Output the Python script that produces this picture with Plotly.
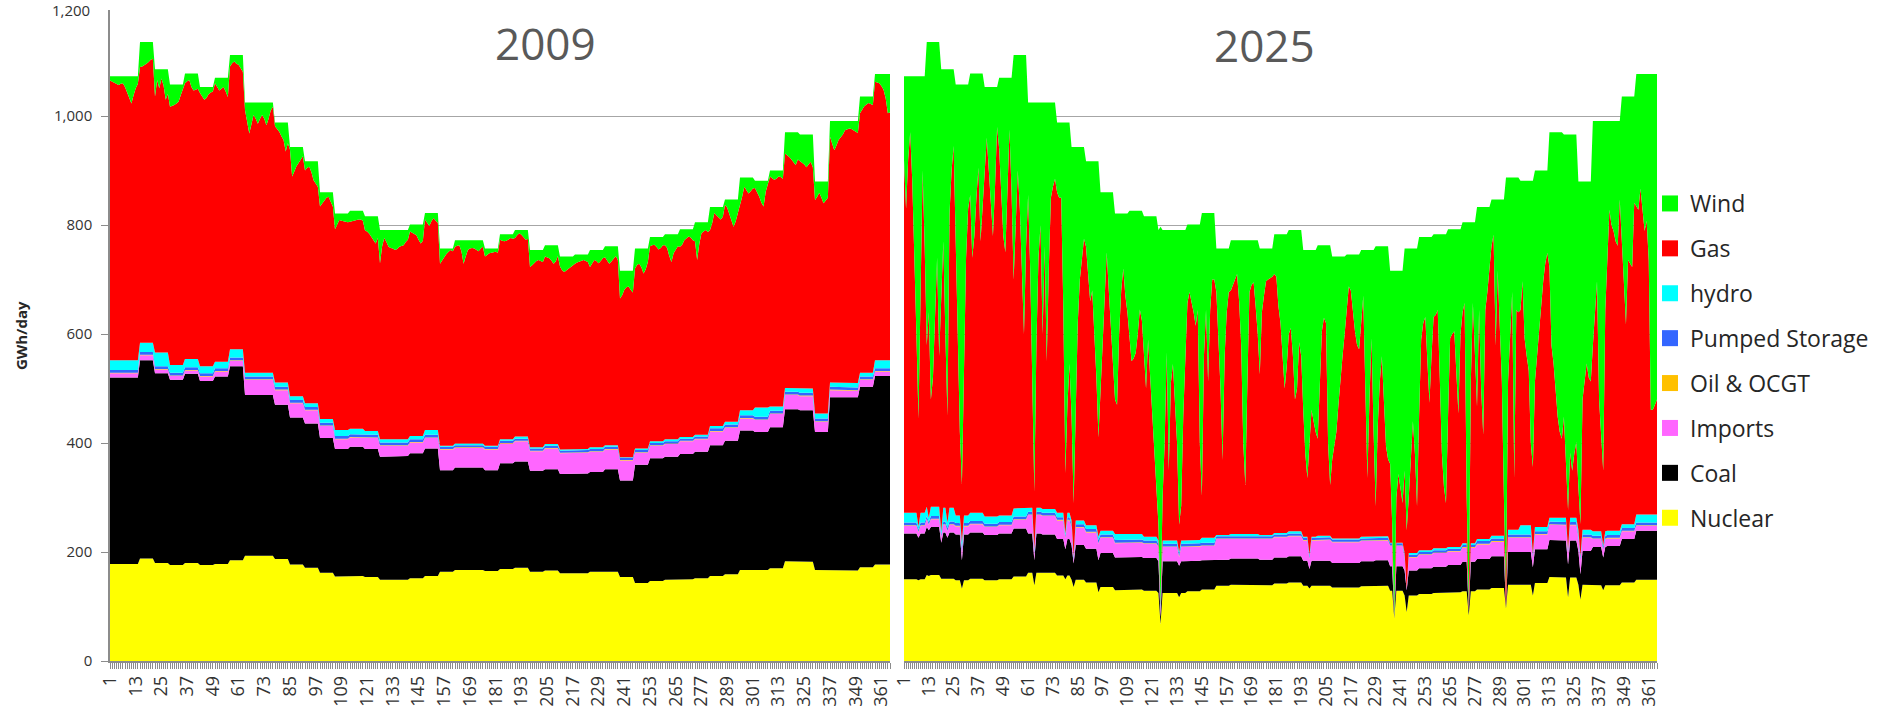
import plotly.graph_objects as go

# ---------------- data (GWh/day) ----------------
days = list(range(1, 366))
x_tick_vals = [1, 13, 25, 37, 49, 61, 73, 85, 97, 109, 121, 133, 145, 157, 169, 181, 193, 205,
               217, 229, 241, 253, 265, 277, 289, 301, 313, 325, 337, 349, 361]
y_tick_vals = [0, 200, 400, 600, 800, 1000]

# weekly total demand (53 blocks of 7 days)
demand_wk = [1073, 1073, 1136, 1086, 1058, 1078, 1053, 1070, 1112, 1025, 1025, 988, 943, 917,
             860, 821, 826, 816, 791, 791, 801, 822, 757, 772, 772, 757, 783, 791, 754, 763,
             742, 746, 754, 761, 716, 757, 778, 783, 792, 805, 833, 847, 887, 881, 900, 970,
             966, 880, 991, 991, 1036, 1077, 1077]

# 2009 weekly base generation
nuclear_2009_wk = [178, 178, 188, 180, 176, 180, 176, 178, 185, 193, 193, 187, 177, 171, 162, 155,
                   156, 154, 149, 149, 152, 156, 164, 167, 167, 165, 169, 171, 164, 166, 161, 161,
                   164, 164, 154, 143, 147, 149, 150, 152, 156, 159, 167, 167, 170, 183, 182, 167,
                   166, 166, 172, 177, 177]
coal_2009_wk = [342, 342, 364, 348, 340, 347, 338, 344, 356, 295, 295, 283, 270, 265, 247, 234,
                237, 235, 226, 227, 229, 234, 186, 188, 188, 185, 194, 195, 185, 186, 182, 183,
                183, 188, 177, 217, 225, 226, 230, 232, 240, 245, 256, 253, 259, 279, 278, 253,
                318, 318, 331, 346, 346]
imports_2009_wk = [8, 8, 9, 7, 7, 6, 8, 9, 10, 28, 28, 27, 26, 24, 22, 18, 17, 20, 20, 19, 20, 19,
                   38, 36, 36, 38, 36, 37, 36, 38, 38, 38, 37, 36, 37, 22, 23, 23, 23, 23, 25, 24,
                   22, 22, 24, 26, 26, 19, 13, 12, 13, 8, 8]
oil_wk = [1, 1, 1, 1, 1, 1, 1, 1, 1, 1, 1, 1, 1, 1, 1, 1, 1, 1, 1, 1, 1, 1, 1, 1, 1, 1, 1, 1, 1,
          1, 1, 1, 1, 1, 1, 1, 1, 1, 1, 1, 1, 1, 1, 1, 1, 1, 1, 1, 1, 1, 1, 1, 1]
pumped_wk = [5, 5, 5, 5, 5, 5, 5, 5, 5, 5, 5, 5, 5, 5, 5, 5, 5, 5, 5, 5, 5, 5, 4, 4, 4, 4, 4, 4,
             4, 4, 4, 4, 4, 4, 4, 4, 4, 4, 4, 4, 5, 5, 5, 5, 5, 5, 5, 5, 5, 5, 5, 5, 5]
hydro_wk = [18, 18, 17, 25, 14, 15, 13, 12, 15, 7, 7, 8, 7, 7, 7, 11, 10, 7, 6, 6, 6, 9, 2, 3, 3,
            2, 3, 4, 2, 3, 2, 2, 3, 3, 1, 3, 3, 4, 3, 3, 4, 5, 9, 17, 8, 7, 8, 9, 8, 8, 7, 15, 15]

# 2009 daily wind
wind_2009 = [8, 10, 12, 15, 16, 14, 13, 20, 30, 38, 50, 35, 22, 14, 46, 45, 43, 40, 37, 33, 31,
             50, 20, 35, 17, 30, 56, 45, 41, 40, 38, 35, 32, 20, 7, 18, 14, 12, 25, 31, 30, 28,
             11, 18, 23, 20, 13, 10, 8, 10, 18, 23, 20, 17, 25, 35, 21, 15, 12, 16, 18, 25, 31,
             14, 35, 57, 40, 23, 30, 39, 30, 23, 30, 42, 30, 15, 8, 7, 12, 17, 25, 32, 53, 38,
             5, 54, 45, 35, 29, 22, 17, 17, 12, 10, 20, 35, 42, 47, 26, 20, 14, 10, 8, 18, 26,
             29, 20, 12, 13, 14, 15, 16, 20, 19, 17, 17, 16, 16, 18, 26, 28, 32, 38, 45, 50, 40,
             61, 30, 15, 22, 31, 33, 34, 37, 35, 31, 30, 28, 22, 18, 13, 15, 17, 20, 28, 35, 30,
             12, 18, 24, 15, 9, 14, 18, 28, 22, 15, 10, 6, 3, 5, 12, 10, 9, 20, 43, 30, 18,
             15, 14, 15, 18, 20, 15, 12, 15, 12, 9, 8, 7, 6, 8, 10, 12, 13, 12, 9, 7, 8,
             15, 10, 6, 9, 14, 18, 16, 31, 28, 24, 20, 18, 20, 22, 21, 22, 24, 28, 34, 30, 20,
             18, 25, 28, 25, 21, 18, 15, 17, 15, 13, 11, 10, 12, 14, 31, 25, 18, 20, 24, 20, 15,
             20, 25, 32, 28, 22, 18, 25, 51, 45, 35, 30, 29, 35, 40, 37, 30, 28, 35, 46, 38, 25,
             17, 15, 14, 18, 23, 20, 15, 20, 25, 40, 51, 35, 29, 22, 32, 28, 20, 16, 13, 15, 20,
             35, 69, 40, 20, 17, 14, 18, 42, 30, 11, 15, 20, 23, 18, 10, 15, 26, 35, 50, 40, 25,
             53, 35, 17, 22, 29, 25, 20, 13, 20, 29, 40, 47, 20, 4, 11, 14, 17, 15, 11, 12, 15,
             39, 42, 45, 50, 55, 60, 50, 49, 52, 55, 60, 55, 50, 60, 34, 28, 21, 30, 40, 35, 30,
             29, 40, 54, 45, 35, 30, 25, 17, 15, 14, 15, 17, 20, 22, 31, 25, 18, 15, 12, 14, 16,
             14, 16, 17, 22, 29, 45, 72, 70]

# 2025 weekly base generation (weeks run 3 days earlier than in 2009)
week_shift_2025 = 3
nuclear_2025_wk = [150, 150, 158, 151, 148, 151, 148, 150, 155, 162, 162, 157, 149, 144, 136, 130,
                   131, 129, 125, 125, 128, 131, 138, 140, 140, 139, 142, 144, 138, 138, 135, 135,
                   137, 138, 129, 120, 123, 125, 126, 128, 131, 134, 140, 140, 143, 154, 153, 140,
                   139, 139, 144, 149, 149]
coal_2025_wk = [84, 84, 88, 85, 84, 85, 83, 84, 88, 72, 70, 67, 64, 62, 62, 60, 60, 60, 58, 58,
                56, 54, 48, 48, 48, 47, 48, 48, 46, 46, 45, 45, 46, 47, 45, 46, 47, 48, 50, 54,
                56, 58, 60, 60, 62, 68, 68, 62, 70, 72, 80, 90, 90]
imports_2025_wk = [14, 14, 14, 14, 15, 15, 15, 15, 16, 34, 34, 34, 32, 30, 28, 26, 26, 26, 26, 26,
                   26, 26, 38, 37, 37, 38, 37, 37, 37, 38, 38, 38, 37, 36, 37, 24, 25, 25, 25, 26,
                   27, 27, 26, 26, 27, 28, 28, 24, 15, 14, 14, 9, 9]
# days when wind output forced the base plant down: (nuclear, coal, imports, oil, pumped, hydro)
dips_2025 = {8: (148, 78, 10, 1, 4, 6), 13: (156, 84, 10, 1, 4, 8), 19: (151, 66, 10, 1, 4, 6),
             22: (151, 75, 12, 1, 5, 10), 29: (133, 52, 14, 1, 8, 10), 64: (139, 46, 10, 1, 4, 5),
             79: (150, 55, 20, 1, 4, 4), 83: (136, 43, 5, 1, 4, 3), 95: (126, 59, 30, 1, 6, 6),
             125: (68, 12, 12, 1, 4, 3), 134: (117, 58, 16, 1, 5, 3), 197: (133, 36, 18, 1, 4, 3),
             238: (78, 1, 1, 0, 0, 0), 244: (90, 40, 2, 0, 1, 0), 274: (84, 8, 2, 0, 0, 0),
             292: (97, 2, 1, 0, 0, 0), 305: (120, 52, 18, 1, 4, 1), 322: (117, 60, 20, 1, 5, 2),
             328: (113, 46, 25, 1, 4, 3), 339: (130, 60, 14, 1, 5, 2)}

# 2025 daily wind
wind_2025 = [154, 243, 153, 103,
             193, 313, 473, 628, 373, 173, 313, 556, 496, 656, 616, 486, 396, 576,
             406, 316, 486, 636, 266, 186, 141, 278, 438, 638, 733, 548, 318, 228,
             223, 338, 298, 228, 173, 308, 248, 153, 93, 153, 223, 273, 183, 73,
             130, 210, 290, 320, 220, 95, 210, 412, 312, 212, 282, 392, 512, 352,
             170, 305, 525, 715, 445, 285, 225, 425, 265, 475, 305, 175, 155, 140,
             128, 138, 138, 338, 643, 518, 443, 493, 653, 503, 323, 243, 203, 168,
             157, 207, 257, 237, 317, 397, 507, 360, 280, 180, 110, 180, 250, 310,
             341, 351, 221, 141, 101, 151, 181, 231, 276, 271, 261, 226, 181, 201,
             256, 316, 226, 296, 356, 426, 496, 541, 697, 491, 391, 225, 441, 281,
             246, 311, 391, 541, 506, 341, 231, 144, 124, 141, 161, 186, 157, 401,
             519, 262, 178, 309, 178, 122, 122, 80, 157, 257, 388, 197, 117, 80,
             92, 82, 72, 62, 112, 192, 372, 449, 259, 95, 82, 77, 122, 172,
             231, 117, 87, 60, 57, 54, 52, 73, 78, 132, 163, 223, 283, 243,
             191, 180, 231, 311, 291, 206, 231, 294, 374, 418, 354, 293, 314, 334,
             355, 263, 158, 133, 143, 363, 440, 372, 347, 322, 272, 222, 182, 142,
             96, 59, 66, 106, 141, 166, 174, 134, 84, 254, 418, 274, 162, 334,
             477, 331, 248, 202, 281, 367, 391, 354, 466, 635, 416, 373, 399, 426,
             408, 517, 457, 375, 317, 377, 473, 328, 188, 158, 147, 228, 304, 218,
             152, 148, 139, 263, 401, 463, 493, 342, 200, 192, 187, 262, 338, 192,
             165, 148, 505, 705, 292, 148, 245, 366, 189, 333, 418, 189, 156, 113,
             85, 65, 268, 131, 247, 334, 547, 754, 374, 287, 210, 551, 243, 247,
             237, 184, 289, 321, 348, 481, 525, 387, 340, 295, 250, 203, 170, 151,
             247, 391, 424, 470, 522, 550, 562, 518, 606, 689, 584, 617, 586, 564,
             560, 629, 400, 360, 334, 360, 367, 412, 351, 294, 511, 591, 642, 347,
             251, 163, 191, 202, 221, 229, 144, 261, 356, 418, 300, 306, 313, 195,
             242, 249, 210, 257, 288, 269, 341, 616, 616, 607, 597]

series_names = ["Nuclear", "Coal", "Imports", "Oil & OCGT", "Pumped Storage", "hydro", "Gas", "Wind"]
series_colors = {"Nuclear": "#FFFF00", "Coal": "#000000", "Imports": "#FF66FF",
                 "Oil & OCGT": "#FFC000", "Pumped Storage": "#3366FF", "hydro": "#00FFFF",
                 "Gas": "#FF0000", "Wind": "#00FF00"}


# ---------------- build daily stacks ----------------
def build_year(nuc_wk, coal_wk, imp_wk, wind, shift, dips):
    out = {n: [] for n in series_names}
    for i, d in enumerate(days):
        w = (d - 1 + shift) // 7
        base = [nuc_wk[w], coal_wk[w], imp_wk[w], oil_wk[w], pumped_wk[w], hydro_wk[w]]
        if d in dips:
            base = list(dips[d])
        gas = max(0, demand_wk[w] - wind[i] - sum(base))
        for n, v in zip(series_names, base + [gas, wind[i]]):
            out[n].append(v)
    return out


y2009 = build_year(nuclear_2009_wk, coal_2009_wk, imports_2009_wk, wind_2009, 0, {})
y2025 = build_year(nuclear_2025_wk, coal_2025_wk, imports_2025_wk, wind_2025, week_shift_2025, dips_2025)

# ---------------- figure ----------------
W, H = 1881, 714
fig = go.Figure()

for data, xa, ya, grp in [(y2009, "x", "y", "a"), (y2025, "x2", "y2", "b")]:
    for n in series_names:
        fig.add_trace(go.Scatter(
            x=days, y=data[n], mode="lines", stackgroup=grp,
            line=dict(width=0, color=series_colors[n]), fillcolor=series_colors[n],
            name=n, showlegend=False, hoverinfo="skip", xaxis=xa, yaxis=ya))

for n in reversed(series_names):
    fig.add_trace(go.Scatter(
        x=[None], y=[None], mode="markers", name=n, legendgroup=n,
        marker=dict(symbol="square", size=16, color=series_colors[n]),
        xaxis="x2", yaxis="y2", hoverinfo="skip"))

FONT = "Open Sans"
px_per_unit = 545.0 / 1000.0
y_bottom_px = 661
y_top_val = 1195
y_top_px = y_bottom_px - y_top_val * px_per_unit
y_dom = [1 - y_bottom_px / H, 1 - y_top_px / H]

xaxis_common = dict(
    range=[1, 365], tickmode="array", tickvals=x_tick_vals, tickangle=-90,
    ticks="outside", ticklen=6, tickcolor="#8c8c8c", showline=True, linecolor="#8c8c8c",
    linewidth=1.5, showgrid=False, zeroline=False,
    tickfont=dict(family=FONT, size=18, color="#333333"),
    minor=dict(tickmode="linear", tick0=1, dtick=1, ticks="outside", ticklen=6,
               tickcolor="#8c8c8c", showgrid=False))

fig.update_layout(
    width=W, height=H, autosize=False,
    margin=dict(l=0, r=0, t=0, b=0, autoexpand=False),
    paper_bgcolor="white", plot_bgcolor="white",
    showlegend=True,
    xaxis=dict(domain=[110 / W, 890 / W], anchor="y", **xaxis_common),
    xaxis2=dict(domain=[904 / W, 1657 / W], anchor="y2", **xaxis_common),
    yaxis=dict(domain=y_dom, range=[0, y_top_val], tickmode="array", tickvals=y_tick_vals,
               tickformat=",", ticks="outside", ticklen=7, tickcolor="#8c8c8c",
               showline=True, linecolor="#8c8c8c", linewidth=1.5, showgrid=True,
               gridcolor="#a6a6a6", gridwidth=1, zeroline=False, ticklabelstandoff=6,
               tickfont=dict(family=FONT, size=15, color="#333333")),
    yaxis2=dict(domain=y_dom, range=[0, y_top_val], anchor="x2", tickmode="array",
                tickvals=y_tick_vals, showticklabels=False, ticks="", showline=False,
                showgrid=True, gridcolor="#a6a6a6", gridwidth=1, zeroline=False),
    legend=dict(x=1650 / W, xanchor="left", y=1 - 182 / H, yanchor="top",
                traceorder="grouped", tracegroupgap=12, bgcolor="rgba(0,0,0,0)",
                font=dict(family=FONT, size=23, color="#262626")),
    annotations=[
        dict(text="2009", x=545 / W, y=1 - 43 / H, xref="paper", yref="paper",
             xanchor="center", yanchor="middle",
             showarrow=False, font=dict(family=FONT, size=44, color="#595959")),
        dict(text="2025", x=1264 / W, y=1 - 45 / H, xref="paper", yref="paper",
             xanchor="center", yanchor="middle",
             showarrow=False, font=dict(family=FONT, size=44, color="#595959")),
        dict(text="GWh/day", x=21 / W, y=1 - 336 / H, xref="paper", yref="paper",
             xanchor="center", yanchor="middle", textangle=-90, showarrow=False,
             font=dict(family=FONT, size=15, color="#262626", weight="bold")),
        dict(text="1,200", x=92 / W, y=1 - 10 / H, xref="paper", yref="paper", xanchor="right",
             yanchor="middle", showarrow=False,
             font=dict(family=FONT, size=15, color="#333333")),
    ],
)

fig.write_html("out.html", config={"displayModeBar": False},
               post_script="document.body.style.margin='0px';document.body.style.overflow='hidden';")
